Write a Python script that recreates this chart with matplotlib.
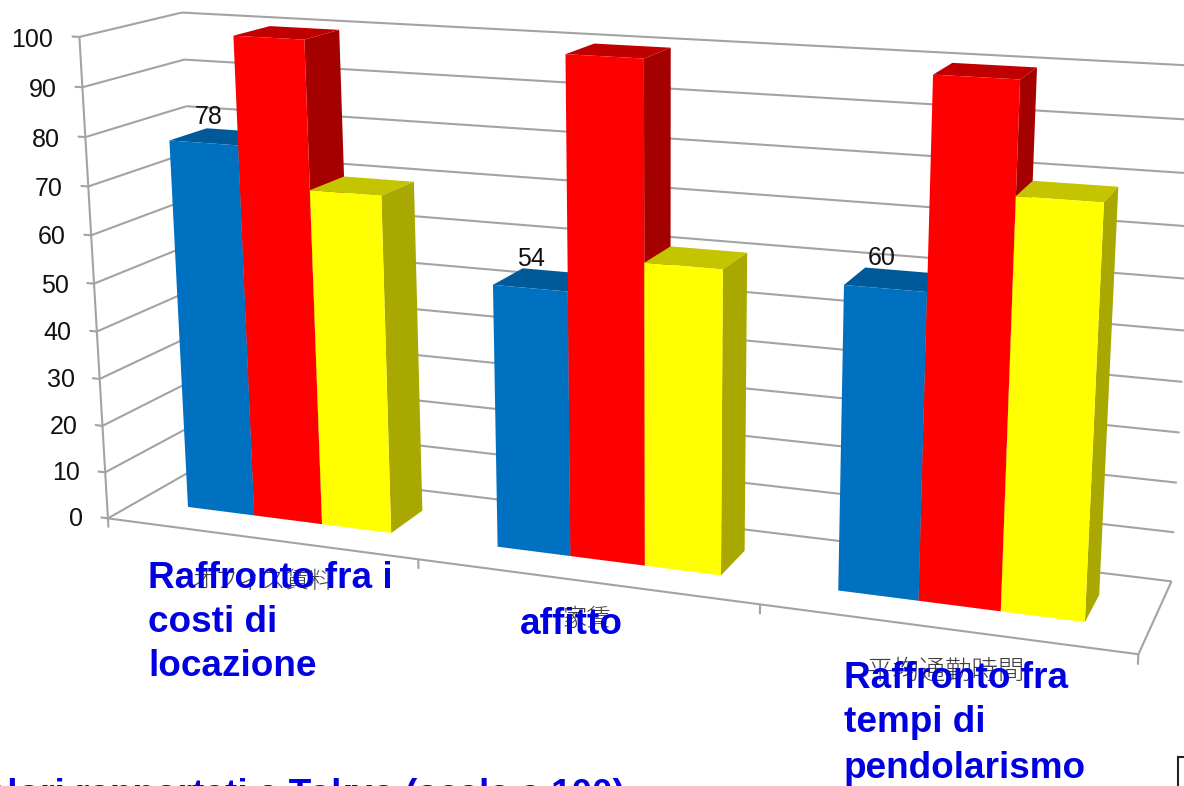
import numpy as np
import matplotlib
matplotlib.use('Agg')
import matplotlib.pyplot as plt
from matplotlib.patches import Rectangle
from mpl_toolkits.mplot3d.art3d import Line3DCollection

plt.rcParams['font.family'] = ['Liberation Sans', 'DejaVu Sans']

# data
blue_vals = [78, 54, 60]
red_vals = [100, 100, 100]
yellow_vals = [70, 61, 79]
value_ticks = [0, 10, 20, 30, 40, 50, 60, 70, 80, 90, 100]

W, H = 1184, 786
GREY = '#a3a3a3'

# camera calibration: box corners (category, depth, value) seen at these pixels
calib_3d = [(0, 0, 0), (1, 0, 0), (2, 0, 0), (3, 0, 0), (3, 1, 0), (0, 1, 0),
            (0, 0, 100), (0, 1, 100), (3, 1, 100), (0, 0, 50), (0, 1, 90),
            (0, 1, 80), (3, 1, 90), (3, 1, 80)]
calib_px = [(108, 518), (418, 559), (760, 605), (1138, 655), (1172, 580), (204, 464),
            (80, 36), (182, 12), (1199, 66), (94, 284), (184, 60),
            (186, 107), (1197, 120), (1194, 174)]


def fit_camera(pts3d, pts2d):
    rows = []
    for (x, y, z), (u, v) in zip(pts3d, pts2d):
        p = [x / 3, y, z / 100, 1]
        u, v = u / 1000, v / 1000
        rows.append(p + [0, 0, 0, 0] + [-u * c for c in p])
        rows.append([0, 0, 0, 0] + p + [-v * c for c in p])
    P = np.linalg.svd(np.array(rows))[2][-1].reshape(3, 4)
    P = np.diag([1000, 1000, 1]) @ P @ np.diag([1 / 3, 1, 1 / 100, 1])
    return P / P[2, 3]


P = fit_camera(calib_3d, calib_px)
M = np.array([P[0], H * P[2] - P[1], [0, 1, 0, 0], P[2]])

fig = plt.figure(figsize=(W / 100, H / 100), dpi=100)
ax = fig.add_subplot(projection='3d', computed_zorder=False)
ax.set_position([0, 0, 1, 1])
ax.set_axis_off()
ax.get_proj = lambda: M
ax.apply_aspect = lambda position=None: None

# gridlines on the back and left walls, floor edges and ticks
segs = []
for v in value_ticks:
    segs.append([(0, 0, v), (0, 1, v)])
    segs.append([(0, 1, v), (3, 1, v)])
    segs.append([(-0.025, 0, v), (0, 0, v)])
    ax.text(-0.085, 0, v - 0.9, str(v), ha='right', va='center', fontsize=18, color='#111111')
segs.append([(0, 0, 0), (0, 0, 100)])
segs.append([(0, 0, 0), (3, 0, 0)])
segs.append([(3, 0, 0), (3, 1, 0)])
for c in range(4):
    segs.append([(c, 0, -2), (c, 0, 0)])
ax.add_collection3d(Line3DCollection(segs, colors=GREY, linewidths=1.5, zorder=1))

# bars, left to right so each one covers the side of the previous
series = [(blue_vals, '#0070c0', '#005a9a', '#004a80'),
          (red_vals, '#ff0000', '#c00000', '#a50000'),
          (yellow_vals, '#ffff00', '#c4c400', '#a8a800')]
bar_w = 1 / 4.5
none = (0, 0, 0, 0)
z = 2
for c in range(3):
    for s, (vals, front, top, side) in enumerate(series):
        x0 = c + 0.75 * bar_w + s * bar_w
        ax.bar3d(x0, 0.31, 0, bar_w, 0.38, vals[c], shade=False,
                 color=[none, top, front, none, none, side], linewidth=0, zorder=z)
        z += 1

# data labels on the blue series
for c in range(3):
    ax.text(c + 1.07 * bar_w, 0.5, blue_vals[c] + 3.9, str(blue_vals[c]), ha='center',
            va='center', fontsize=18, color='#111111', zorder=20)

ax.viewLim.intervalx = (0, W)
ax.viewLim.intervaly = (0, H)


def px(x, y):
    return x / W, 1 - y / H


# category labels in Japanese under the overlaid Italian ones
jp = ['Noto Sans CJK JP', 'DejaVu Sans']
fig.text(*px(262, 581), 'オフィス賃料', family=jp, fontsize=17, color='#404040',
         ha='center', va='center', fontweight='light')
fig.text(*px(587, 619), '家賃', family=jp, fontsize=17.5, color='#404040',
         ha='center', va='center', fontweight='light')
fig.text(*px(946, 671), '平均通勤時間', family=jp, fontsize=19, color='#404040',
         ha='center', va='center', fontweight='light')

blue_txt = dict(color='#0000e0', fontweight='bold', fontsize=26.6)
fig.text(*px(148, 578), 'Raffronto fra i', va='center', **blue_txt)
fig.text(*px(148, 623), 'costi di', va='center', **blue_txt)
fig.text(*px(148, 667), 'locazione', va='center', **blue_txt)
fig.text(*px(571, 625), 'affitto', va='center', ha='center', **blue_txt)
fig.text(*px(844, 679), 'Raffronto fra', va='center', **blue_txt)
fig.text(*px(844, 723), 'tempi di', va='center', **blue_txt)
fig.text(*px(844, 768), 'pendolarismo', va='center', **blue_txt)
fig.text(*px(625, 805), 'Valori rapportati a Tokyo (scala a 100)', ha='right', va='baseline', **blue_txt)

fig.add_artist(Rectangle(px(1178, 800), 40 / W, 43 / H, transform=fig.transFigure,
                         fill=False, edgecolor='#222222', lw=1.5))

fig.savefig('out.png', dpi=100)
